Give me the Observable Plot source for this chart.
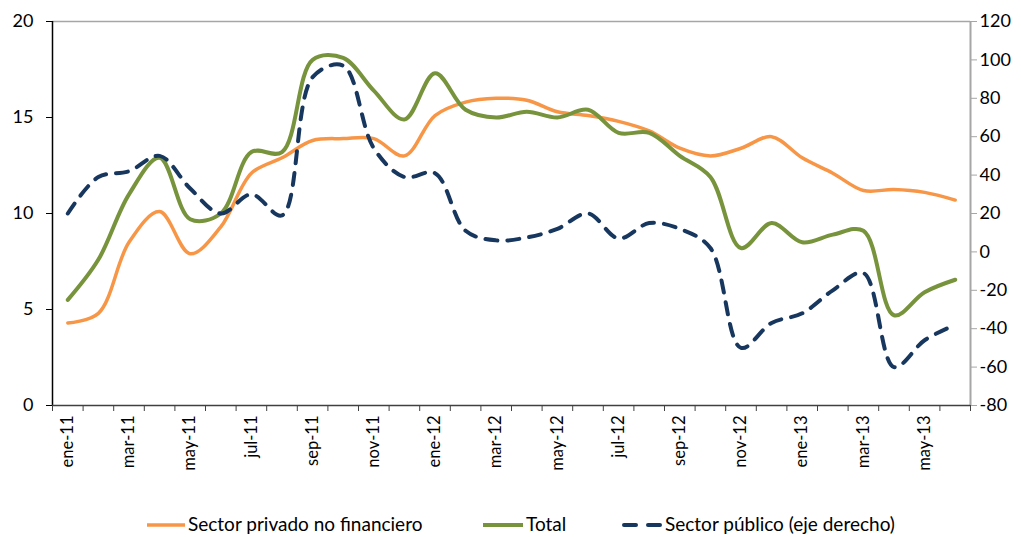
<!DOCTYPE html>
<html>
<head>
<meta charset="utf-8">
<script src="https://cdn.jsdelivr.net/npm/d3@7"></script>
<script src="https://cdn.jsdelivr.net/npm/@observablehq/plot@0.6"></script>
<style>
  html, body { margin: 0; padding: 0; background: #fff; overflow: hidden; }
  #wrap { position: relative; width: 1021px; height: 537px; font-family: Lato, "Open Sans", sans-serif; }
  .leg { position: absolute; top: 513px; height: 22px; line-height: 22px; font-size: 19px; color: #000; white-space: nowrap; display: flex; align-items: center; }
  .leg svg { margin-right: 3px; }
</style>
</head>
<body>
<div id="wrap">
  <div id="chart"></div>
  <div class="leg" style="left:147px"><svg width="38" height="20"><line x1="0" x2="38" y1="11" y2="11" stroke="#F79646" stroke-width="3.5"/></svg>Sector privado no financiero</div>
  <div class="leg" style="left:483px"><svg width="40" height="20"><line x1="0" x2="40" y1="11" y2="11" stroke="#77933C" stroke-width="4"/></svg>Total</div>
  <div class="leg" style="left:622px"><svg width="40" height="20"><line x1="2" x2="38" y1="11" y2="11" stroke="#17375E" stroke-width="4" stroke-dasharray="12,12" stroke-linecap="round"/></svg>Sector público (eje derecho)</div>
</div>
<script>
const months = ["ene-11","feb-11","mar-11","abr-11","may-11","jun-11","jul-11","ago-11","sep-11","oct-11","nov-11","dic-11",
  "ene-12","feb-12","mar-12","abr-12","may-12","jun-12","jul-12","ago-12","sep-12","oct-12","nov-12","dic-12",
  "ene-13","feb-13","mar-13","abr-13","may-13","jun-13"];
const privado = [4.3, 4.8, 8.5, 10.1, 7.9, 9.3, 12.1, 12.9, 13.8, 13.9, 13.9, 13.0,
  15.1, 15.8, 16.0, 15.9, 15.3, 15.1, 14.8, 14.3, 13.4, 13.0, 13.4, 14.0,
  12.9, 12.1, 11.2, 11.25, 11.1, 10.7];
const total = [5.5, 7.6, 11.0, 12.9, 9.7, 10.0, 13.2, 13.2, 18.0, 18.1, 16.4, 14.9,
  17.3, 15.4, 15.0, 15.3, 15.0, 15.4, 14.2, 14.2, 13.0, 11.9, 8.2, 9.5,
  8.5, 8.9, 9.1, 4.7, 5.9, 6.55];
const publico = [20, 39, 42, 50, 33, 20, 30, 19, 91, 97, 54, 39,
  41, 11, 6, 7.5, 12, 20, 7, 15, 12, 2, -50, -37,
  -32, -20, -11, -60, -46, -38];
const leftTicks = [0, 5, 10, 15, 20];
const rightTicks = [-80, -60, -40, -20, 0, 20, 40, 60, 80, 100, 120];

// right axis (-80..120) mapped onto left scale (0..20)
const toLeft = v => (v + 80) / 10;
const rows = months.map((m, i) => ({i: i + 0.5, m, privado: privado[i], total: total[i], publico: toLeft(publico[i])}));

const chart = Plot.plot({
  width: 1021,
  height: 500,
  marginTop: 21,
  marginBottom: 95,
  marginLeft: 52,
  marginRight: 51,
  style: {fontFamily: "Lato, 'Open Sans', sans-serif", fontSize: "18px", color: "#000", background: "#fff"},
  x: {domain: [0, months.length], axis: null},
  y: {domain: [0, 20], axis: null},
  marks: [
    Plot.ruleY([20], {stroke: "#A6A6A6", strokeWidth: 1.5}),
    Plot.axisY({ticks: leftTicks, anchor: "left", tickSize: 6, tickPadding: 13, label: null, fontSize: 18, stroke: "#000"}),
    Plot.axisY({ticks: rightTicks.map(toLeft), anchor: "right", tickSize: 6, tickPadding: 3, label: null, fontSize: 18,
      stroke: "#A6A6A6", tickFormat: d => String(Math.round(d * 10 - 80))}),
    Plot.axisX({ticks: d3.range(0, months.length + 1), tickFormat: () => "", tickSize: 6, label: null, stroke: "#404040"}),
    Plot.axisX({ticks: d3.range(0.5, months.length, 2), tickFormat: d => months[Math.floor(d)], tickRotate: -90,
      tickSize: 0, tickPadding: 10, label: null, fontSize: 16.5}),
    Plot.ruleX([0], {stroke: "#000", strokeWidth: 1.5}),
    Plot.ruleX([months.length], {stroke: "#A6A6A6", strokeWidth: 2}),
    Plot.ruleY([0], {stroke: "#404040", strokeWidth: 1.5}),
    Plot.line(rows, {x: "i", y: "privado", stroke: "#F79646", strokeWidth: 3.5, curve: "catmull-rom"}),
    Plot.line(rows, {x: "i", y: "total", stroke: "#77933C", strokeWidth: 4, curve: "catmull-rom"}),
    Plot.line(rows, {x: "i", y: "publico", stroke: "#17375E", strokeWidth: 4, curve: "catmull-rom",
      strokeDasharray: "12,10", strokeLinecap: "round"})
  ]
});
document.getElementById("chart").appendChild(chart);
</script>
</body>
</html>
